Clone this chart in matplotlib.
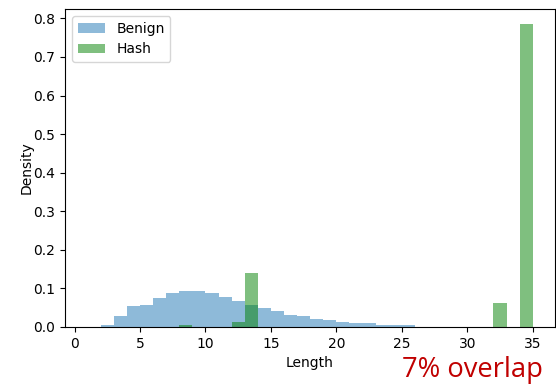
import matplotlib
matplotlib.use("Agg")
import matplotlib.pyplot as plt

# bin left edges (width 1) and densities
benign_left = list(range(2, 26))
benign_density = [0.004, 0.028, 0.054, 0.058, 0.076, 0.088, 0.093, 0.093,
                  0.089, 0.077, 0.068, 0.056, 0.049, 0.042, 0.031, 0.029,
                  0.021, 0.017, 0.013, 0.011, 0.011, 0.006, 0.006, 0.006]
hash_left = [8, 12, 13, 32, 34]
hash_density = [0.005, 0.013, 0.141, 0.063, 0.785]

fig = plt.figure(figsize=(5.56, 3.84), dpi=100)
ax = fig.add_axes([65 / 556, 1 - 327 / 384, 490 / 556, 318 / 384])
ax.bar(benign_left, benign_density, width=1, align="edge", color="C0",
       alpha=0.5, label="Benign")
ax.bar(hash_left, hash_density, width=1, align="edge", color="g",
       alpha=0.5, label="Hash")
ax.set_xlim(-0.73, 36.7)
ax.set_xticks([0, 5, 10, 15, 20, 25, 30, 35])
ax.set_xlabel("Length")
ax.set_ylabel("Density", labelpad=0)
ax.legend(loc="upper left")
fig.text(543 / 556, 7 / 384, "7% overlap", ha="right", va="baseline",
         fontsize=19.7, color="#c00000", family="Open Sans")
fig.savefig("out.png", dpi=100)
